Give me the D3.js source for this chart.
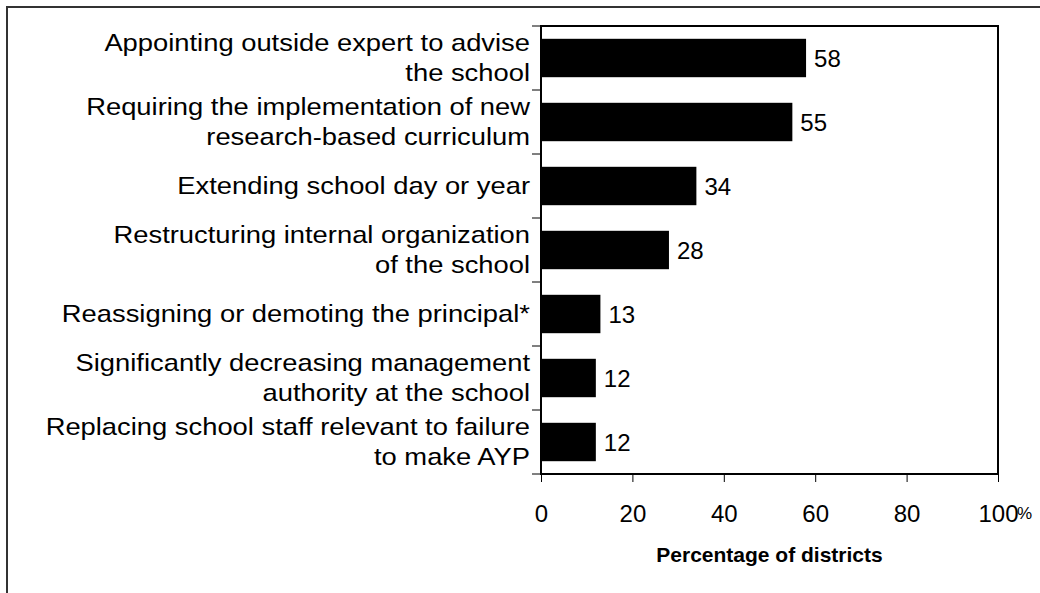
<!DOCTYPE html>
<html>
<head>
<meta charset="utf-8">
<script src="https://cdn.jsdelivr.net/npm/d3@7"></script>
<style>
  html, body { margin: 0; padding: 0; background: #fff; }
  svg { display: block; font-family: "Liberation Sans", Arial, sans-serif; }
</style>
</head>
<body>
<svg id="chart" width="1040" height="593"></svg>
<script>
// Interventions used by districts (category labels split into display lines)
const categories = [
  ["Appointing outside expert to advise", "the school"],
  ["Requiring the implementation of new", "research-based curriculum"],
  ["Extending school day or year"],
  ["Restructuring internal organization", "of the school"],
  ["Reassigning or demoting the principal*"],
  ["Significantly decreasing management", "authority at the school"],
  ["Replacing school staff relevant to failure", "to make AYP"]
];
const values = [58, 55, 34, 28, 13, 12, 12];
const xTicks = [0, 20, 40, 60, 80, 100];
const xTitle = "Percentage of districts";

const svg = d3.select("#chart");
const plot = { left: 541, right: 998, top: 26, bottom: 474 };

// outer frame, running off the right and bottom edges
svg.append("rect")
  .attr("x", 7).attr("y", 7)
  .attr("width", 1100).attr("height", 700)
  .attr("fill", "none").attr("stroke", "#333").attr("stroke-width", 2);

const x = d3.scaleLinear().domain([0, 100]).range([plot.left, plot.right]);
const y = d3.scaleBand().domain(d3.range(categories.length))
  .range([plot.top, plot.bottom]).paddingInner(0.4).paddingOuter(0.2);

// bars
svg.append("g").selectAll("rect").data(values).join("rect")
  .attr("x", x(0))
  .attr("y", (d, i) => y(i))
  .attr("width", d => x(d) - x(0))
  .attr("height", y.bandwidth())
  .attr("fill", "#000");

// value labels
svg.append("g").selectAll("text").data(values).join("text")
  .attr("x", d => x(d) + 8)
  .attr("y", (d, i) => y(i) + y.bandwidth() / 2)
  .attr("dy", "0.36em")
  .attr("font-size", 24)
  .text(d => d);

// plot frame
svg.append("rect")
  .attr("x", plot.left).attr("y", plot.top)
  .attr("width", plot.right - plot.left).attr("height", plot.bottom - plot.top)
  .attr("fill", "none").attr("stroke", "#000").attr("stroke-width", 2);

// x axis with ticks below the frame
const xAxis = d3.axisBottom(x).tickValues(xTicks).tickSize(8).tickPadding(23)
  .tickFormat(d3.format("d"));
const gx = svg.append("g").attr("transform", `translate(0,${plot.bottom})`).call(xAxis);
gx.select(".domain").remove();
gx.selectAll("line").attr("stroke", "#000");
gx.selectAll("text").attr("font-size", 24)
  .attr("font-family", "Liberation Sans, Arial, sans-serif").attr("fill", "#000");

svg.append("text")
  .attr("x", x(100) + 19).attr("y", plot.bottom + 45)
  .attr("font-size", 17).text("%");

// y tick marks at category boundaries
const bounds = d3.range(categories.length + 1).map(i => plot.top + i * y.step());
svg.append("g").selectAll("line").data(bounds).join("line")
  .attr("x1", plot.left - 9).attr("x2", plot.left)
  .attr("y1", d => d).attr("y2", d => d)
  .attr("stroke", "#000").attr("stroke-width", 1);

// category labels, slightly widened glyphs
const lineH = 30;
const labels = svg.append("g").selectAll("text").data(categories).join("text")
  .attr("text-anchor", "end")
  .attr("font-size", 24)
  .attr("transform", (d, i) => `translate(530,${y(i) + y.bandwidth() / 2}) scale(1.14,1)`);
labels.selectAll("tspan").data(d => d.map((t, k) => ({ t, k, n: d.length }))).join("tspan")
  .attr("x", 0)
  .attr("y", o => (o.k - (o.n - 1) / 2) * lineH)
  .attr("dy", "0.35em")
  .text(o => o.t);

// axis title
svg.append("text")
  .attr("x", (plot.left + plot.right) / 2).attr("y", 562)
  .attr("text-anchor", "middle").attr("font-weight", "bold").attr("font-size", 21)
  .text(xTitle);
</script>
</body>
</html>
